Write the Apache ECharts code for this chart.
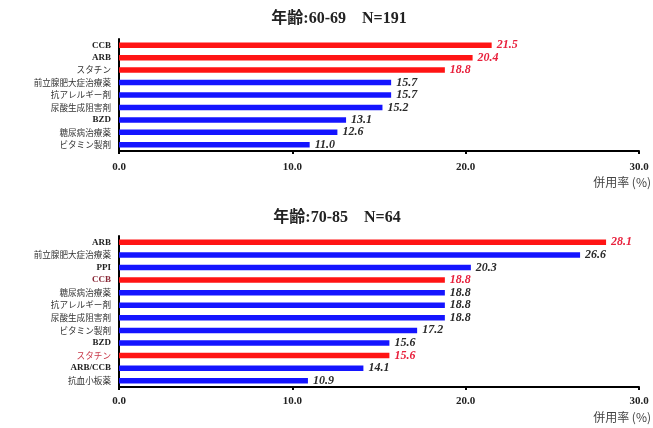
<!DOCTYPE html>
<html>
<head>
<meta charset="utf-8">
<script src="https://cdn.jsdelivr.net/npm/echarts@6/dist/echarts.min.js"></script>
<style>
  html, body { margin: 0; padding: 0; background: #fff; }
  #chart { width: 653px; height: 428px; }
</style>
</head>
<body>
<div id="chart"></div>
<script>
// Age group 60-69 (N=191)
const catsTop = ['CCB', 'ARB', 'スタチン', '前立腺肥大症治療薬', '抗アレルギー剤', '尿酸生成阻害剤', 'BZD', '糖尿病治療薬', 'ビタミン製剤'];
const valsTop = [21.5, 20.4, 18.8, 15.7, 15.7, 15.2, 13.1, 12.6, 11.0];
const cardioTop = ['CCB', 'ARB', 'スタチン'];

// Age group 70-85 (N=64)
const catsBottom = ['ARB', '前立腺肥大症治療薬', 'PPI', 'CCB', '糖尿病治療薬', '抗アレルギー剤', '尿酸生成阻害剤', 'ビタミン製剤', 'BZD', 'スタチン', 'ARB/CCB', '抗血小板薬'];
const valsBottom = [28.1, 26.6, 20.3, 18.8, 18.8, 18.8, 18.8, 17.2, 15.6, 15.6, 14.1, 10.9];
const cardioBottom = ['ARB', 'CCB', 'スタチン'];

const xTicks = [0, 10, 20, 30];
const titleTop = '年齢:60-69　N=191';
const titleBottom = '年齢:70-85　N=64';
const axisName = '併用率 (%)';

const RED = '#ff1414';
const BLUE = '#1414ff';
const SERIF = '"Liberation Serif", "Times New Roman", serif';
const JP = '"Noto Sans CJK JP", sans-serif';

function barData(cats, vals, hl) {
  return vals.map((v, i) => {
    const red = hl.includes(cats[i]);
    return {
      value: v,
      itemStyle: { color: red ? RED : BLUE },
      label: { color: red ? '#e8203c' : '#2a2a2a' }
    };
  });
}

function catLabel(hl, tint) {
  return {
    fontSize: 9,
    margin: 8,
    formatter: (v) => {
      const ascii = /^[\x00-\x7f]+$/.test(v);
      const red = tint && hl.includes(v) && v !== 'ARB';
      return '{' + (ascii ? (red ? 'latR' : 'lat') : (red ? 'jpR' : 'jp')) + '|' + v + '}';
    },
    rich: {
      lat: { fontFamily: SERIF, fontWeight: 'bold', fontSize: 9, color: '#222' },
      latR: { fontFamily: SERIF, fontWeight: 'bold', fontSize: 9, color: '#8a2a38' },
      jp: { fontFamily: JP, fontSize: 8.6, color: '#333' },
      jpR: { fontFamily: JP, fontSize: 8.6, color: '#c83848' }
    }
  };
}

function valueAxis(gridIndex, margin) {
  return {
    type: 'value',
    gridIndex,
    min: xTicks[0],
    max: xTicks[xTicks.length - 1],
    interval: xTicks[1] - xTicks[0],
    axisLine: { show: true, lineStyle: { color: '#000', width: 2 } },
    axisTick: { show: true, length: 3, lineStyle: { color: '#000', width: 2 } },
    splitLine: { show: false },
    axisLabel: {
      margin,
      fontFamily: SERIF,
      fontWeight: 'bold',
      fontSize: 11,
      color: '#222',
      formatter: (v) => v.toFixed(1)
    }
  };
}

function catAxis(gridIndex, cats, hl, tint) {
  return {
    type: 'category',
    gridIndex,
    data: cats,
    inverse: true,
    axisLine: { show: true, lineStyle: { color: '#000', width: 2 } },
    axisTick: { show: false },
    axisLabel: catLabel(hl, tint)
  };
}

function barSeries(idx, cats, vals, hl) {
  return {
    type: 'bar',
    xAxisIndex: idx,
    yAxisIndex: idx,
    barWidth: 5.5,
    data: barData(cats, vals, hl),
    label: {
      show: true,
      position: 'right',
      distance: 5,
      fontFamily: SERIF,
      fontStyle: 'italic',
      fontWeight: 'bold',
      fontSize: 12,
      formatter: (p) => p.value.toFixed(1)
    },
    animation: false
  };
}

const chart = echarts.init(document.getElementById('chart'), null, { renderer: 'canvas' });
chart.setOption({
  backgroundColor: '#fff',
  animation: false,
  title: [
    {
      text: titleTop, left: 334, top: 6, textAlign: 'center',
      textStyle: { fontFamily: SERIF + ', ' + JP, fontWeight: 'bold', fontSize: 16, color: '#222' }
    },
    {
      text: titleBottom, left: 332, top: 205, textAlign: 'center',
      textStyle: { fontFamily: SERIF + ', ' + JP, fontWeight: 'bold', fontSize: 16, color: '#222' }
    }
  ],
  grid: [
    { left: 119, right: 14, top: 39, height: 112 },
    { left: 119, right: 14, top: 236, height: 151 }
  ],
  xAxis: [valueAxis(0, 11), valueAxis(1, 9)],
  yAxis: [catAxis(0, catsTop, cardioTop, false), catAxis(1, catsBottom, cardioBottom, true)],
  series: [
    barSeries(0, catsTop, valsTop, cardioTop),
    barSeries(1, catsBottom, valsBottom, cardioBottom)
  ],
  graphic: [
    {
      type: 'text', right: 2, top: 176,
      style: { text: axisName, fontFamily: JP, fontSize: 12, fill: '#444' }
    },
    {
      type: 'text', right: 2, top: 411,
      style: { text: axisName, fontFamily: JP, fontSize: 12, fill: '#444' }
    }
  ]
});
</script>
</body>
</html>
